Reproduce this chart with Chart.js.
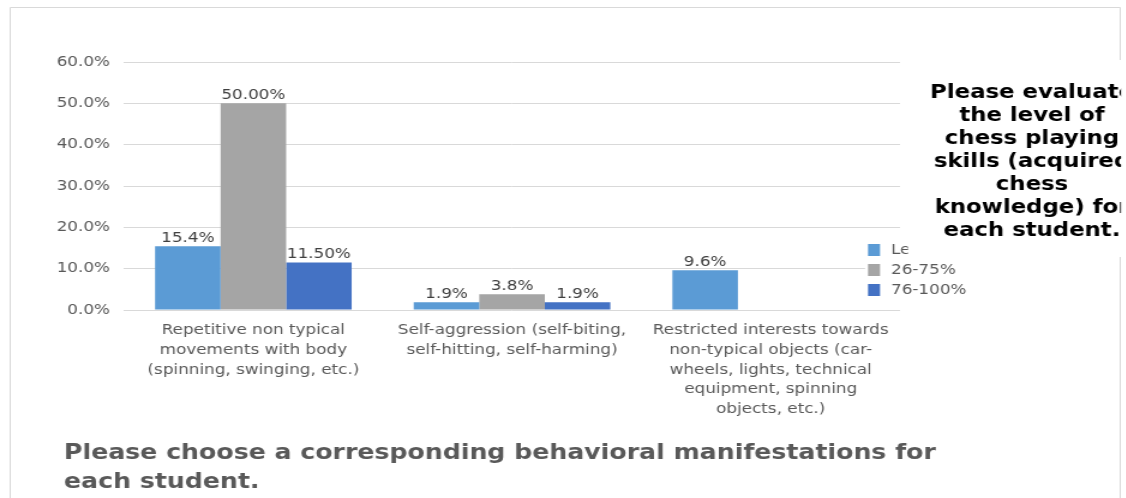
<!DOCTYPE html>
<html>
<head>
<meta charset="utf-8">
<script src="https://cdn.jsdelivr.net/npm/chart.js@4.4.0/dist/chart.umd.min.js"></script>
<style>
  html, body { margin: 0; padding: 0; background: #ffffff; overflow: hidden; }
  /* the original picture is stretched sideways, so the canvas is too */
  canvas { display: block; transform: scaleX(1.2); transform-origin: 0 0; }
</style>
</head>
<body>
<canvas id="behaviourChart" width="939" height="498"></canvas>
<script>
// categories (x axis, already wrapped like the original)
var categories = [
    ['Repetitive non typical', 'movements with body', '(spinning, swinging, etc.)'],
    ['Self-aggression (self-biting,', 'self-hitting, self-harming)'],
    ['Restricted interests towards', 'non-typical objects (car-', 'wheels, lights, technical', 'equipment, spinning', 'objects, etc.)']
];

var seriesNames = ['Less than 25%', '26-75%', '76-100%'];

// values in %
var lowValues = [15.4, 1.9, 9.6];
var midValues = [50.0, 3.8, null];
var highValues = [11.5, 1.9, null];

// value labels as printed on the bars
var lowLabels = ['15.4%', '1.9%', '9.6%'];
var midLabels = ['50.00%', '3.8%', ''];
var highLabels = ['11.50%', '1.9%', ''];

var yMin = 0, yMax = 60, yStep = 10;

var sideTitle = ['Please evaluate', 'the level of', 'chess playing', 'skills (acquired', 'chess', 'knowledge) for', 'each student.'];
var bottomTitle = ['Please choose a corresponding behavioral manifestations for', 'each student.'];

var colors = ['#5B9BD5', '#A5A5A5', '#4472C4'];
var barLabels = [lowLabels, midLabels, highLabels];

var STRETCH = 1.2;
function sx(x) { return x / STRETCH; } // page x -> canvas x

// outer frame of the chart object
var framePlugin = {
    id: 'framePlugin',
    beforeDraw(chart) {
        var ctx = chart.ctx;
        ctx.save();
        ctx.fillStyle = '#ffffff';
        ctx.fillRect(0, 0, chart.width, chart.height);
        ctx.strokeStyle = '#D9D9D9';
        ctx.lineWidth = 1;
        ctx.beginPath();
        ctx.moveTo(8.5, chart.height);
        ctx.lineTo(8.5, 7.5);
        ctx.lineTo(933.5, 7.5);
        ctx.lineTo(933.5, chart.height);
        ctx.stroke();
        ctx.restore();
    }
};

// numbers above the bars
var barLabelPlugin = {
    id: 'barLabelPlugin',
    afterDatasetsDraw(chart) {
        var ctx = chart.ctx;
        ctx.save();
        ctx.font = '14px "DejaVu Sans"';
        ctx.fillStyle = '#404040';
        ctx.textAlign = 'center';
        ctx.textBaseline = 'alphabetic';
        chart.data.datasets.forEach(function (ds, i) {
            var meta = chart.getDatasetMeta(i);
            meta.data.forEach(function (bar, j) {
                if (ds.data[j] === null) return;
                ctx.fillText(barLabels[i][j], bar.x, bar.y - 4);
            });
        });
        ctx.restore();
    }
};

// legend + the two text boxes, drawn on top like in the original
var overlayPlugin = {
    id: 'overlayPlugin',
    afterDraw(chart) {
        var ctx = chart.ctx;
        ctx.save();

        // legend (white fill over the gridlines)
        ctx.fillStyle = '#ffffff';
        ctx.fillRect(sx(865), 240, sx(120), 60);
        ctx.font = '14px "DejaVu Sans"';
        ctx.textBaseline = 'middle';
        ctx.textAlign = 'left';
        chart.data.datasets.forEach(function (ds, i) {
            var cy = 250 + i * 20;
            ctx.fillStyle = ds.backgroundColor;
            ctx.fillRect(sx(868), cy - 6, sx(12), 12);
            ctx.fillStyle = '#595959';
            ctx.fillText(ds.label, sx(891), cy);
        });

        // side title box, covers part of the legend
        ctx.fillStyle = '#ffffff';
        ctx.fillRect(sx(908), 60, sx(230), 197);
        ctx.beginPath();
        ctx.rect(sx(908), 60, sx(213), 197);
        ctx.clip();
        ctx.fillStyle = '#000000';
        ctx.font = 'bold 19px "DejaVu Sans"';
        ctx.textAlign = 'center';
        sideTitle.forEach(function (line, i) {
            ctx.fillText(line, sx(1032), 93 + i * 23);
        });
        ctx.restore();

        // bottom title
        ctx.save();
        ctx.fillStyle = '#595959';
        ctx.font = 'bold 21px "DejaVu Sans"';
        ctx.textAlign = 'left';
        ctx.textBaseline = 'alphabetic';
        bottomTitle.forEach(function (line, i) {
            ctx.fillText(line, sx(64), 459 + i * 29);
        });
        ctx.restore();
    }
};

var ctx = document.getElementById('behaviourChart').getContext('2d');
var behaviourChart = new Chart(ctx, {
    type: 'bar',
    data: {
        labels: categories,
        datasets: [
            { label: seriesNames[0], data: lowValues, backgroundColor: colors[0] },
            { label: seriesNames[1], data: midValues, backgroundColor: colors[1] },
            { label: seriesNames[2], data: highValues, backgroundColor: colors[2] }
        ]
    },
    options: {
        responsive: false,
        animation: false,
        devicePixelRatio: 1,
        categoryPercentage: 0.76,
        barPercentage: 1.0,
        layout: {
            padding: { left: 0, top: 62, right: 939 - sx(900), bottom: 0 }
        },
        plugins: {
            legend: { display: false },
            title: { display: false },
            tooltip: { enabled: false }
        },
        scales: {
            x: {
                grid: { display: false, drawTicks: false },
                border: { display: false },
                ticks: {
                    color: '#595959',
                    font: { family: 'DejaVu Sans', size: 14, lineHeight: 1.4 },
                    padding: 11,
                    maxRotation: 0,
                    autoSkip: false
                },
                afterFit(scale) { scale.height = 188; }
            },
            y: {
                min: yMin,
                max: yMax,
                grid: { color: '#D9D9D9', drawTicks: false },
                border: { display: false },
                ticks: {
                    stepSize: yStep,
                    color: '#595959',
                    font: { family: 'DejaVu Sans', size: 14 },
                    padding: sx(14),
                    callback: function (v) { return v.toFixed(1) + '%'; }
                },
                afterFit(scale) { scale.width = sx(124); }
            }
        }
    },
    plugins: [framePlugin, barLabelPlugin, overlayPlugin]
});
</script>
</body>
</html>
